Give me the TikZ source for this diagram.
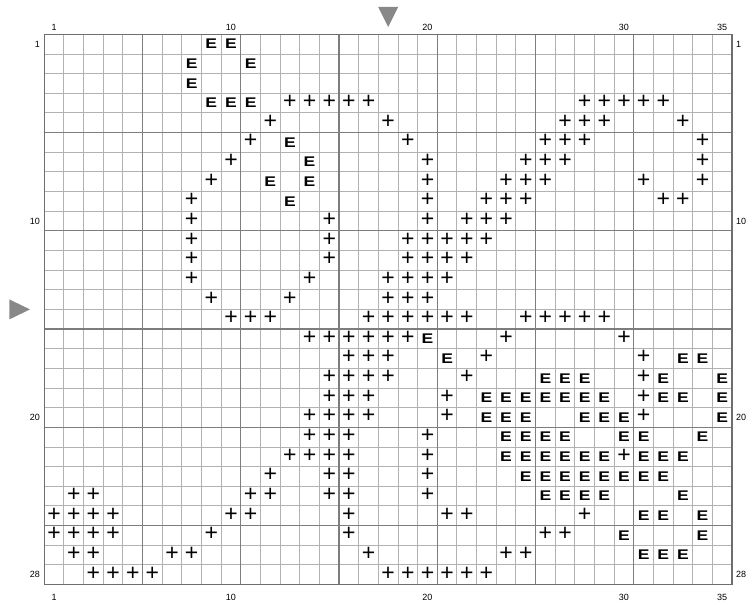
\documentclass[tikz,border=0pt]{standalone}
\usepackage{fontspec}
\setmainfont{Liberation Sans}
\usepackage{tikz}
\definecolor{gridlight}{RGB}{178,178,178}
\definecolor{gridmajor}{RGB}{125,125,125}
\definecolor{gridframe}{RGB}{110,110,110}
\definecolor{markgray}{RGB}{136,136,136}

\begin{document}
\begin{tikzpicture}[
    x=19.65pt, y=-19.65pt,
    grid_thin/.style={draw=gridlight, line width=0.9pt},
    grid_major/.style={draw=gridmajor, line width=1.2pt},
    grid_frame/.style={draw=gridframe, line width=1.5pt},
    stitch_plus/.style={inner sep=0pt, font=\fontsize{23}{23}\selectfont},
    stitch_e/.style={inner sep=0pt, font=\fontsize{14}{14}\selectfont\bfseries},
    axis_label/.style={inner sep=0pt, font=\fontsize{9}{9}\selectfont},
    center_mark/.style={fill=markgray, draw=none}
]

    % Page frame (746 x 606)
    \useasboundingbox (-2.254,-1.746) rectangle (35.71,29.09);

    % --- Grid: 35 columns x 28 rows ---
    \foreach \i in {1,...,34} \draw[grid_thin] (\i,0) -- (\i,28);
    \foreach \j in {1,...,27} \draw[grid_thin] (0,\j) -- (35,\j);
    \foreach \i in {5,10,...,30} \draw[grid_major] (\i,0) -- (\i,28);
    \foreach \j in {5,10,...,25} \draw[grid_major] (0,\j) -- (35,\j);
    \draw[grid_frame] (0,0) rectangle (35,28);

    % --- Centre markers ---
    \fill[center_mark] (16.99,-1.39) -- (18.01,-1.39) -- (17.5,-0.37) -- cycle;
    \fill[center_mark] (-1.78,13.49) -- (-1.78,14.51) -- (-0.73,14) -- cycle;

    % --- Column numbers (top and bottom) ---
    \foreach \c in {1,10,20,30,35} {
        \node[axis_label] (coltop\c) at ({\c-0.5},-0.37) {\c};
        \node[axis_label] (colbot\c) at ({\c-0.5},28.66) {\c};
    }

    % --- Row numbers (left and right) ---
    \foreach \r in {1,10,20,28} {
        \node[axis_label, anchor=east] (rowleft\r) at (-0.22,{\r-0.5}) {\r};
        \node[axis_label, anchor=west] (rowright\r) at (35.2,{\r-0.5}) {\r};
    }

    % --- Symbol "+" cells, row / columns ---
    \foreach \r/\cols in {
        4/{13,14,15,16,17,28,29,30,31,32},
        5/{12,18,27,28,29,33},
        6/{11,19,26,27,28,34},
        7/{10,20,25,26,27,34},
        8/{9,20,24,25,26,31,34},
        9/{8,20,23,24,25,32,33},
        10/{8,15,20,22,23,24},
        11/{8,15,19,20,21,22,23},
        12/{8,15,19,20,21,22},
        13/{8,14,18,19,20,21},
        14/{9,13,18,19,20},
        15/{10,11,12,17,18,19,20,21,22,25,26,27,28,29},
        16/{14,15,16,17,18,19,24,30},
        17/{16,17,18,23,31},
        18/{15,16,17,18,22,31},
        19/{15,16,17,21,31},
        20/{14,15,16,17,21,31},
        21/{14,15,16,20},
        22/{13,14,15,16,20,30},
        23/{12,15,16,20},
        24/{2,3,11,12,15,16,20},
        25/{1,2,3,4,10,11,16,21,22,28},
        26/{1,2,3,4,9,16,26,27},
        27/{2,3,7,8,17,24,25},
        28/{3,4,5,6,18,19,20,21,22,23}} {
        \foreach \c in \cols
            \node[stitch_plus] (p\r-\c) at ({\c-0.5},{\r-0.56}) {+};
    }

    % --- Symbol "E" cells, row / columns ---
    \foreach \r/\cols in {
        1/{9,10},
        2/{8,11},
        3/{8},
        4/{9,10,11},
        6/{13},
        7/{14},
        8/{12,14},
        9/{13},
        16/{20},
        17/{21,33,34},
        18/{26,27,28,32,35},
        19/{23,24,25,26,27,28,29,32,33,35},
        20/{23,24,25,28,29,30,35},
        21/{24,25,26,27,30,31,34},
        22/{24,25,26,27,28,29,31,32,33},
        23/{25,26,27,28,29,30,31,32},
        24/{26,27,28,29,33},
        25/{31,32,34},
        26/{30,34},
        27/{31,32,33}} {
        \foreach \c in \cols
            \node[stitch_e] (e\r-\c) at ({\c-0.5},{\r-0.5}) {\scalebox{1.25}[1]{E}};
    }

\end{tikzpicture}
\end{document}
